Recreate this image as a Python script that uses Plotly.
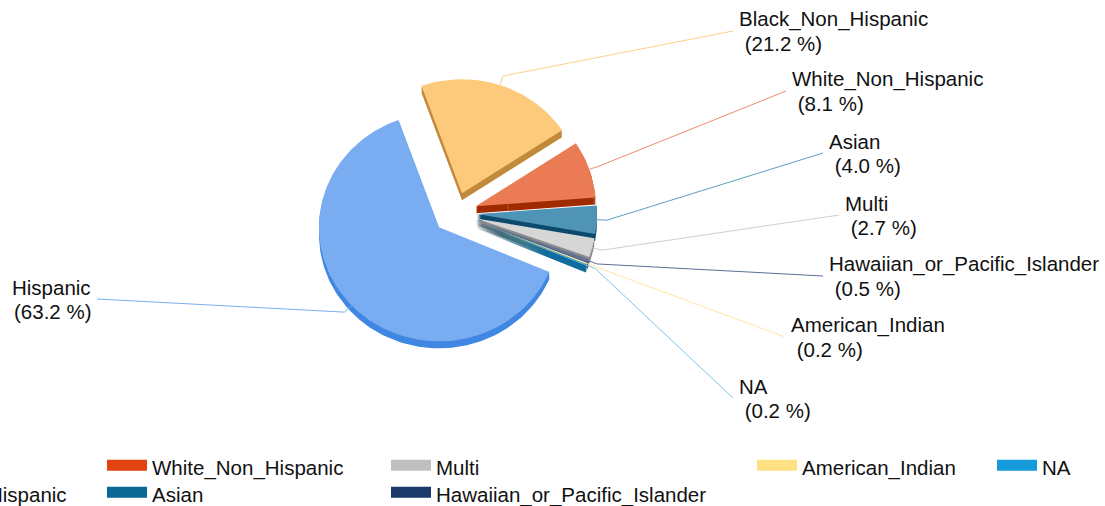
import math
import plotly.graph_objects as go

# ---------------- data ----------------
LABELS = ["Hispanic", "Black_Non_Hispanic", "White_Non_Hispanic", "Asian", "Multi",
          "Hawaiian_or_Pacific_Islander", "American_Indian", "NA"]
VALUES = [63.2, 21.2, 8.1, 4.0, 2.7, 0.5, 0.2, 0.2]

# ---------------- style ----------------
LEGEND_COLORS = ["#4a8fe8", "#fbb343", "#e2430f", "#0b6794", "#bfbfbf", "#1b3a6b", "#ffe083", "#159adb"]
TOP_COLORS = ["#7aacf2", "#fdc97a", "#ea7b54", "#4f93b5", "#d6d6d6", "#5f7496", "#ffe9a8", "#3fa8e0"]
SIDE_COLORS = ["#3f87e2", "#c08a3a", "#a02b00", "#0b4a6c", "#8c8c8c", "#1b3a6b", "#d8b860", "#0e6c9e"]
LINE_COLORS = ["#7aacf2", "#fdd08a", "#f08a6a", "#5a9fc2", "#cfcfcf", "#5b6e95", "#ffe7a0", "#7cc6ee"]

FONT = "Liberation Sans, Arial, sans-serif"
FONT_SIZE = 20.5
W, H = 1105, 506
OFF = 0   # page body margin is removed by the post script

# pie geometry (pixels)
CX, CY = 455, 213
R = 120
K = 0.95          # vertical squash from tilt
DEPTH = 7
EXPLODE = 22
START = 113       # degrees clockwise from 12 o'clock
ELBOW = 10

# connector end points / label anchors (layout)
LABEL_ANCHORS = [(97, 299), (733, 31), (786, 91), (823, 153), (839, 215),
                 (823, 276), (785, 337), (733, 398)]

# legend placement (layout): (legend id, box-left px, row centre px)
LEGEND_SLOTS = [("legend2", -57, 494), ("legend", -400, 467), ("legend3", 107, 467),
                ("legend4", 107, 494), ("legend5", 391, 467), ("legend6", 391, 494),
                ("legend7", 757, 467), ("legend8", 997, 467)]


def ell(px, py, r, th):
    t = math.radians(th)
    return px + r * math.sin(t), py - r * K * math.cos(t)


fig = go.Figure()

total = sum(VALUES)
slices = []
a = START
for i, v in enumerate(VALUES):
    span = v / total * 360.0
    a0, a1 = a, a + span
    mid = (a0 + a1) / 2
    ox, oy = ell(CX, CY, EXPLODE, mid)
    n = max(2, int(span / 1.5) + 2)
    xs, ys = [ox], [oy]
    for j in range(n + 1):
        x, y = ell(ox, oy, R, a0 + span * j / n)
        xs.append(x)
        ys.append(y)
    xs.append(ox)
    ys.append(oy)
    slices.append(dict(i=i, ox=ox, oy=oy, xs=xs, ys=ys, mid=mid))
    a = a1

# back-to-front drawing
for s in sorted(slices, key=lambda d: d["oy"]):
    i = s["i"]
    sx, sy = [], []
    for d in range(1, DEPTH + 1):
        sx += s["xs"] + [None]
        sy += [y + d for y in s["ys"]] + [None]
    fig.add_trace(go.Scatter(x=sx, y=sy, mode="lines", fill="toself",
                             fillcolor=SIDE_COLORS[i], line=dict(width=0, color=SIDE_COLORS[i]),
                             showlegend=False, hoverinfo="skip"))
    fig.add_trace(go.Scatter(x=s["xs"], y=s["ys"], mode="lines", fill="toself",
                             fillcolor=TOP_COLORS[i], line=dict(width=0, color=TOP_COLORS[i]),
                             showlegend=False, hoverinfo="skip", name=LABELS[i]))

annotations = []
for s in slices:
    i = s["i"]
    ex, ey = ell(s["ox"], s["oy"], R, s["mid"])
    bx, by = ell(s["ox"], s["oy"], R + ELBOW, s["mid"])
    lx, ly = LABEL_ANCHORS[i]
    fig.add_trace(go.Scatter(x=[ex, bx, lx], y=[ey, by, ly], mode="lines",
                             line=dict(color=LINE_COLORS[i], width=1),
                             showlegend=False, hoverinfo="skip"))
    pct = f"({VALUES[i]:.1f} %)"
    if lx < ex:
        annotations.append(dict(x=lx - 4, y=ly - 12, text=LABELS[i], xanchor="right", yanchor="middle"))
        annotations.append(dict(x=lx - 4, y=ly + 12, text=pct, xanchor="right", yanchor="middle"))
    else:
        annotations.append(dict(x=lx + 4, y=ly - 12, text=LABELS[i], xanchor="left", yanchor="middle"))
        annotations.append(dict(x=lx + 4, y=ly + 12, text="\u00a0" + pct, xanchor="left", yanchor="middle"))

for an in annotations:
    an.update(xref="x", yref="y", showarrow=False, align="left",
              font=dict(family=FONT, size=FONT_SIZE, color="#111111"))

# legend entries
legend_layouts = {}
for i, lab in enumerate(LABELS):
    lid, bx, cy = LEGEND_SLOTS[i]
    fig.add_trace(go.Scatter(x=[None], y=[None], mode="lines", name=lab, fill="toself",
                             fillcolor=LEGEND_COLORS[i],
                             line=dict(color=LEGEND_COLORS[i], width=10),
                             legend=lid, hoverinfo="skip"))
    legend_layouts[lid] = dict(x=(bx - 5 - OFF) / W, y=1 - (cy - 20 - OFF) / H,
                               xanchor="left", yanchor="top",
                               orientation="v", bgcolor="rgba(0,0,0,0)", borderwidth=0,
                               itemwidth=40, itemclick=False, itemdoubleclick=False,
                               font=dict(family=FONT, size=FONT_SIZE, color="#111111"))

fig.update_layout(
    width=W, height=H,
    margin=dict(l=0, r=0, t=0, b=0, pad=0, autoexpand=False),
    paper_bgcolor="white", plot_bgcolor="white",
    xaxis=dict(range=[OFF, W + OFF], visible=False, fixedrange=True),
    yaxis=dict(range=[H + OFF, OFF], visible=False, fixedrange=True),
    annotations=annotations,
    showlegend=True,
    **legend_layouts,
)

fig.write_html("out.html", config={"displayModeBar": False},
               post_script="document.body.style.margin='0px';")
